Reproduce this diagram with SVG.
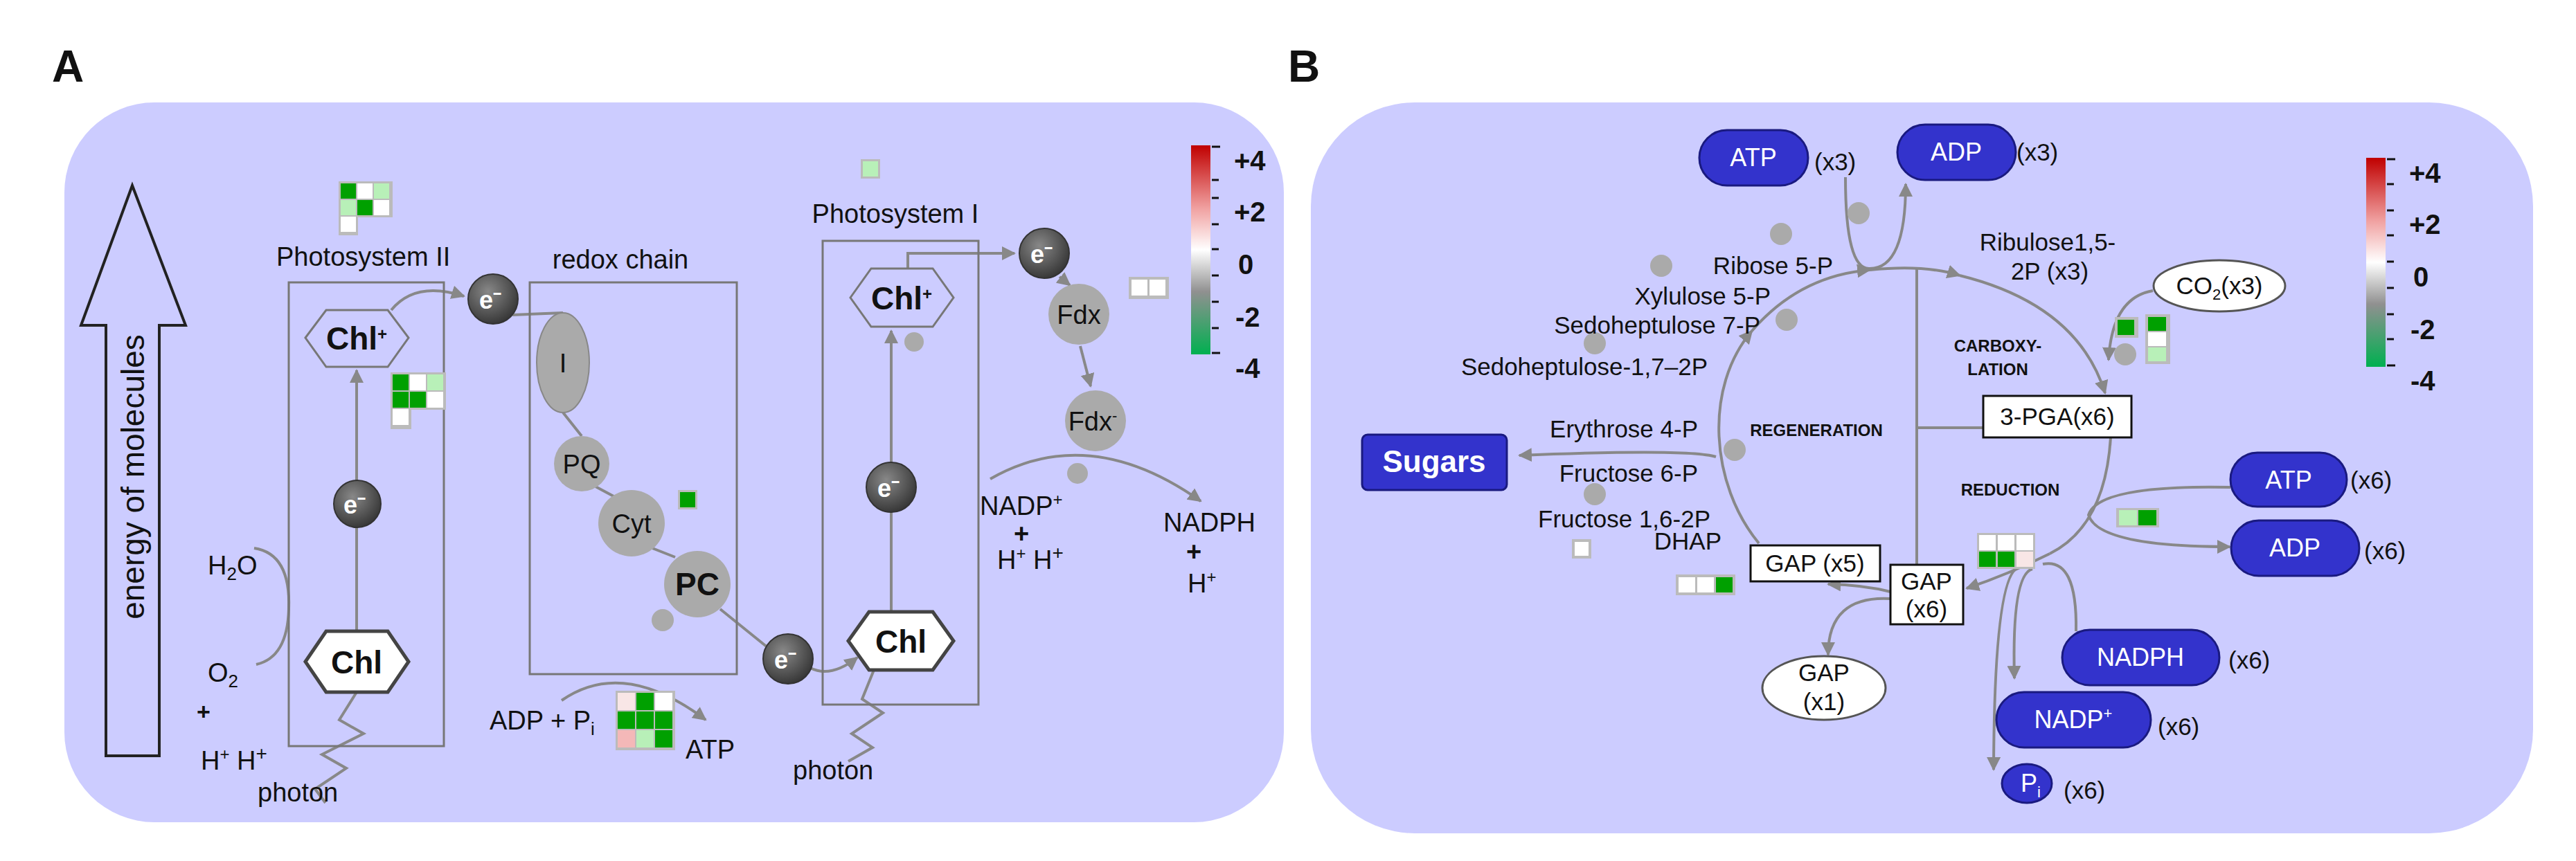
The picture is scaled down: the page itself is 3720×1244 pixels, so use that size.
<svg xmlns="http://www.w3.org/2000/svg" width="3720" height="1244" viewBox="0 0 3720 1244">
<defs>
<marker id="ah" viewBox="0 0 10 10" refX="9" refY="5" markerWidth="5" markerHeight="5" orient="auto"><path d="M0,0L10,5L0,10z" fill="#888"/></marker>
<linearGradient id="cb" x1="0" y1="0" x2="0" y2="1"><stop offset="0" stop-color="#c00000"/><stop offset="0.3" stop-color="#f0a0a0"/><stop offset="0.5" stop-color="#ffffff"/><stop offset="0.7" stop-color="#909090"/><stop offset="1" stop-color="#00b050"/></linearGradient>
<radialGradient id="eg" cx="0.4" cy="0.35" r="0.7"><stop offset="0" stop-color="#888"/><stop offset="1" stop-color="#333"/></radialGradient>
</defs>
<style>
text{font-family:"Liberation Sans",Arial,sans-serif;fill:#111}
.lbl{font-size:38px}
.sm{font-size:35px}
.box{fill:none;stroke:#777;stroke-width:3}
.ln{fill:none;stroke:#888;stroke-width:4}
.arr{fill:none;stroke:#888;stroke-width:4;marker-end:url(#ah)}
.gn{fill:#aaa}
.ec{fill:url(#eg);stroke:#333;stroke-width:2}
.et{font-size:36px;fill:#fff;font-weight:bold}
.hx{fill:#ccccff;stroke:#777;stroke-width:3}
.hw{fill:#fff;stroke:#444;stroke-width:5}
.chl{font-size:46px;font-weight:bold}
.pill{fill:#3333cc;stroke:#1a1a80;stroke-width:3}
.pt{font-size:36px;fill:#fff}
.hb{fill:#bbb}
.G{fill:#00a000}.L{fill:#b8f0b8}.W{fill:#fff}.P{fill:#f4b8b8}.Q{fill:#f8e6e6}
.bb{fill:#fff;stroke:#111;stroke-width:3}
.tick{stroke:#111;stroke-width:3}
.cl{font-size:40px;font-weight:bold}
</style>
<rect width="3720" height="1244" fill="#fff"/>
<text x="75" y="118" font-size="64" font-weight="bold">A</text>
<text x="1860" y="118" font-size="64" font-weight="bold">B</text>
<rect x="93" y="148" width="1761" height="1040" rx="130" fill="#ccccff"/>
<rect x="1893" y="148" width="1765" height="1056" rx="150" fill="#ccccff"/>

<g id="connectors">
<path class="arr" d="M515,912V535"/>
<path class="arr" d="M565,448Q600,405 670,428"/>
<path class="ln" d="M740,455L813,452M813,596L840,630M860,703L888,718M942,792L975,805M1040,880L1108,935"/>
<path class="arr" d="M1170,965Q1200,980 1238,950"/>
<path class="ln" d="M367,792Q420,800 417,880Q415,950 370,960"/>
<path class="ln" d="M515,1000L490,1040L525,1060L465,1090L500,1110L455,1140L470,1160"/>
<path class="arr" d="M811,1012Q900,950 1019,1040"/>
<path class="arr" d="M1287,884V478"/>
<path class="arr" d="M1311,388V366H1465"/>
<path class="arr" d="M1530,400L1545,412"/>
<path class="arr" d="M1560,500L1575,558"/>
<path class="arr" d="M1430,692Q1573,610 1734,724"/>
<path class="ln" d="M1262,968L1245,1010L1275,1030L1230,1060L1260,1080L1225,1100"/>
<path class="arr" d="M2665,256Q2665,390 2700,388Q2752,388 2752,266"/>
<path class="ln" d="M2768,388V816M2768,618H2864"/>
<path class="arr" d="M2700,390Q2780,382 2830,398"/>
<path class="arr" d="M2830,398Q3000,440 3040,568"/>
<path class="arr" d="M3109,420Q3050,430 3045,520"/>
<path class="ln" d="M3048,632Q3040,760 2960,800"/>
<path class="arr" d="M2960,800Q2900,830 2840,850"/>
<path class="arr" d="M2730,855Q2690,845 2640,844"/>
<path class="arr" d="M2540,785C2470,700 2460,560 2530,478"/>
<path class="arr" d="M2530,478C2580,420 2640,395 2700,390"/>
<path class="arr" d="M2478,660Q2440,648 2194,658"/>
<path class="arr" d="M2730,865Q2640,860 2640,946"/>
<path class="arr" d="M3221,704Q3030,700 3016,744Q3030,790 3220,790"/>
<path class="ln" d="M2998,912Q3000,805 2950,815"/>
<path class="arr" d="M2935,822Q2905,830 2909,980"/>
<path class="arr" d="M2915,820Q2880,830 2879,1112"/>
</g>

<g id="energy-arrow"><path d="M153,1092V470H117L191,268L268,470H230V1092Z" fill="none" stroke="#222" stroke-width="4"/><text x="-689" y="208" text-anchor="middle" transform="rotate(-90)" style="font-size:46px">energy of molecules</text></g>

<g id="ps2"><text x="399" y="384" class="lbl">Photosystem II</text><rect class="box" x="417" y="408" width="224" height="670"/>
<polygon class="hx" points="441,488 471,448 560,448 590,488 560,530 471,530"/><text x="515" y="505" class="chl" text-anchor="middle">Chl<tspan font-size="24" dy="-14">+</tspan></text>
<polygon class="hw" points="441,956 471,912 560,912 590,956 560,1000 471,1000"/><text x="515" y="973" class="chl" text-anchor="middle">Chl</text>
<circle class="ec" cx="516" cy="728" r="34"/><text x="512" y="742" class="et" text-anchor="middle">e⁻</text>
<g><rect class="hb" x="489" y="262" width="78" height="28"/><rect class="hb" x="489" y="288" width="78" height="26"/><rect class="hb" x="489" y="312" width="28" height="28"/>
<rect class="G" x="492" y="265" width="22" height="22"/><rect class="W" x="516" y="265" width="22" height="22"/><rect class="L" x="540" y="265" width="22" height="22"/>
<rect class="L" x="492" y="289" width="22" height="22"/><rect class="G" x="516" y="289" width="22" height="22"/><rect class="W" x="540" y="289" width="22" height="22"/>
<rect class="W" x="492" y="313" width="22" height="22"/></g>
<g><rect class="hb" x="564" y="538" width="80" height="54"/><rect class="hb" x="564" y="590" width="30" height="30"/>
<rect class="G" x="567" y="541" width="23" height="23"/><rect class="W" x="592" y="541" width="23" height="23"/><rect class="L" x="617" y="541" width="23" height="23"/>
<rect class="G" x="567" y="566" width="23" height="23"/><rect class="G" x="592" y="566" width="23" height="23"/><rect class="W" x="617" y="566" width="23" height="23"/>
<rect class="W" x="567" y="591" width="23" height="23"/></g>
<circle class="ec" cx="712" cy="432" r="36"/><text x="708" y="446" class="et" text-anchor="middle">e⁻</text>
<text x="300" y="830" class="lbl">H<tspan font-size="26" dy="8">2</tspan><tspan dy="-8">O</tspan></text>
<text x="300" y="985" class="lbl">O<tspan font-size="26" dy="8">2</tspan></text><text x="284" y="1040" font-size="34" font-weight="bold">+</text>
<text x="290" y="1112" class="lbl">H<tspan font-size="24" dy="-14">+</tspan><tspan dy="14"> H</tspan><tspan font-size="28" dy="-14">+</tspan></text>
<text x="372" y="1158" class="lbl">photon</text></g>

<g id="redox"><text x="896" y="388" class="lbl" text-anchor="middle">redox chain</text><rect class="box" x="765" y="408" width="299" height="566"/>
<ellipse class="gn" cx="813" cy="524" rx="38" ry="72" stroke="#888" stroke-width="2"/><text x="813" y="538" class="lbl" text-anchor="middle">I</text>
<circle class="gn" cx="840" cy="670" r="40"/><text x="840" y="684" class="lbl" text-anchor="middle">PQ</text>
<circle class="gn" cx="912" cy="756" r="48"/><text x="912" y="770" class="lbl" text-anchor="middle">Cyt</text>
<circle class="gn" cx="1007" cy="844" r="48"/><text x="1007" y="860" class="chl" text-anchor="middle">PC</text>
<circle class="gn" cx="957" cy="896" r="16"/>
<rect class="hb" x="979" y="708" width="28" height="28"/><rect class="G" x="982" y="711" width="22" height="22"/>
<circle class="ec" cx="1138" cy="952" r="36"/><text x="1134" y="966" class="et" text-anchor="middle">e⁻</text>
<text x="707" y="1054" class="lbl">ADP + P<tspan font-size="26" dy="8">i</tspan></text>
<rect class="hb" x="889" y="998" width="86" height="86"/>
<rect class="Q" x="892" y="1001" width="25" height="25"/><rect class="G" x="919" y="1001" width="25" height="25"/><rect class="W" x="946" y="1001" width="25" height="25"/>
<rect class="G" x="892" y="1028" width="25" height="25"/><rect class="G" x="919" y="1028" width="25" height="25"/><rect class="G" x="946" y="1028" width="25" height="25"/>
<rect class="P" x="892" y="1055" width="25" height="25"/><rect class="L" x="919" y="1055" width="25" height="25"/><rect class="G" x="946" y="1055" width="25" height="25"/>
<text x="990" y="1096" class="lbl">ATP</text></g>

<g id="ps1"><text x="1293" y="322" class="lbl" text-anchor="middle">Photosystem I</text><rect class="hb" x="1243" y="230" width="28" height="28"/><rect class="L" x="1246" y="233" width="22" height="22"/>
<rect class="box" x="1188" y="348" width="225" height="670"/>
<polygon class="hx" points="1228,430 1258,388 1347,388 1377,430 1347,472 1258,472"/><text x="1302" y="447" class="chl" text-anchor="middle">Chl<tspan font-size="24" dy="-14">+</tspan></text>
<circle class="gn" cx="1320" cy="494" r="14"/>
<circle class="ec" cx="1287" cy="704" r="36"/><text x="1283" y="718" class="et" text-anchor="middle">e⁻</text>
<polygon class="hw" points="1225,926 1255,884 1347,884 1377,926 1347,968 1255,968"/><text x="1301" y="943" class="chl" text-anchor="middle">Chl</text>
<text x="1145" y="1126" class="lbl">photon</text>
<circle class="ec" cx="1508" cy="366" r="36"/><text x="1504" y="380" class="et" text-anchor="middle">e⁻</text>
<circle class="gn" cx="1558" cy="454" r="44"/><text x="1558" y="468" class="lbl" text-anchor="middle">Fdx</text>
<circle class="gn" cx="1582" cy="608" r="44"/><text x="1578" y="622" class="lbl" text-anchor="middle">Fdx<tspan font-size="22" dy="-14">-</tspan></text>
<rect class="hb" x="1630" y="400" width="58" height="32"/><rect class="W" x="1634" y="404" width="23" height="23"/><rect class="W" x="1660" y="404" width="23" height="23"/>
<circle class="gn" cx="1556" cy="684" r="15"/>
<text x="1415" y="744" class="lbl">NADP<tspan font-size="24" dy="-14">+</tspan></text><text x="1464" y="784" class="lbl" font-weight="bold">+</text>
<text x="1440" y="822" class="lbl">H<tspan font-size="24" dy="-14">+</tspan><tspan dy="14"> H</tspan><tspan font-size="28" dy="-14">+</tspan></text>
<text x="1680" y="768" class="lbl">NADPH</text><text x="1713" y="810" class="lbl" font-weight="bold">+</text>
<text x="1715" y="856" class="lbl">H<tspan font-size="24" dy="-14">+</tspan></text></g>

<g id="colorbar-a"><rect x="1720" y="210" width="28" height="302" fill="url(#cb)"/>
<path class="tick" d="M1750,212h12M1750,260h10M1750,286h10M1750,324h10M1750,360h10M1750,398h10M1750,436h10M1750,474h10M1750,510h12"/>
<text x="1782" y="246" class="cl">+4</text><text x="1782" y="320" class="cl">+2</text><text x="1788" y="396" class="cl">0</text><text x="1784" y="472" class="cl">-2</text><text x="1784" y="546" class="cl">-4</text></g>

<g id="b-top"><rect class="pill" x="2454" y="188" width="157" height="80" rx="40"/><text x="2532" y="240" class="pt" text-anchor="middle">ATP</text><text x="2620" y="246" class="sm">(x3)</text>
<rect class="pill" x="2740" y="180" width="171" height="80" rx="40"/><text x="2825" y="232" class="pt" text-anchor="middle">ADP</text><text x="2912" y="232" class="sm">(x3)</text></g>
<g id="b-dots"><circle class="gn" cx="2684" cy="308" r="16"/><circle class="gn" cx="2572" cy="338" r="16"/><circle class="gn" cx="2399" cy="384" r="16"/><circle class="gn" cx="2580" cy="462" r="16"/><circle class="gn" cx="2303" cy="496" r="16"/><circle class="gn" cx="2505" cy="650" r="16"/><circle class="gn" cx="2303" cy="714" r="16"/><circle class="gn" cx="3069" cy="512" r="16"/></g>
<g id="b-labels">
<text x="2647" y="396" text-anchor="end" class="sm">Ribose 5-P</text>
<text x="2557" y="440" text-anchor="end" class="sm">Xylulose 5-P</text>
<text x="2542" y="482" text-anchor="end" class="sm">Sedoheptulose 7-P</text>
<text x="2466" y="542" text-anchor="end" class="sm">Sedoheptulose-1,7–2P</text>
<text x="2452" y="632" text-anchor="end" class="sm">Erythrose 4-P</text>
<text x="2452" y="696" text-anchor="end" class="sm">Fructose 6-P</text>
<text x="2470" y="762" text-anchor="end" class="sm">Fructose 1,6-2P</text>
<text x="2486" y="794" text-anchor="end" class="sm">DHAP</text>
<text x="2957" y="362" text-anchor="middle" class="sm">Ribulose1,5-</text><text x="2960" y="404" text-anchor="middle" class="sm">2P (x3)</text>
<text x="2885" y="508" text-anchor="middle" font-size="24" font-weight="bold">CARBOXY-</text><text x="2885" y="542" text-anchor="middle" font-size="24" font-weight="bold">LATION</text>
<text x="2623" y="630" text-anchor="middle" font-size="24" font-weight="bold">REGENERATION</text>
<text x="2903" y="716" text-anchor="middle" font-size="24" font-weight="bold">REDUCTION</text></g>
<g id="pga"><rect class="bb" x="2864" y="572" width="214" height="60"/><text x="2971" y="614" class="sm" text-anchor="middle">3-PGA(x6)</text></g>
<g id="co2"><ellipse cx="3205" cy="413" rx="95" ry="37" fill="#fff" stroke="#555" stroke-width="3"/><text x="3205" y="425" class="sm" text-anchor="middle">CO<tspan font-size="22" dy="8">2</tspan><tspan dy="-8">(x3)</tspan></text>
<rect class="hb" x="3054" y="458" width="34" height="30"/><rect class="G" x="3058" y="462" width="24" height="22"/>
<rect class="hb" x="3098" y="454" width="36" height="72"/><rect class="G" x="3102" y="458" width="26" height="20"/><rect class="W" x="3102" y="480" width="26" height="20"/><rect class="L" x="3102" y="502" width="26" height="20"/></g>
<g id="sugars"><rect x="1967" y="628" width="209" height="80" rx="8" fill="#3333cc" stroke="#1a1a80" stroke-width="3"/><text x="2071" y="682" font-size="44" font-weight="bold" text-anchor="middle" style="fill:#fff">Sugars</text></g>
<g id="gaps"><rect class="hb" x="2270" y="779" width="28" height="28"/><rect class="W" x="2274" y="783" width="20" height="20"/>
<rect class="hb" x="2420" y="830" width="86" height="30"/><rect class="W" x="2424" y="834" width="24" height="22"/><rect class="W" x="2451" y="834" width="24" height="22"/><rect class="G" x="2478" y="834" width="24" height="22"/>
<rect class="bb" x="2528" y="788" width="187" height="52"/><text x="2621" y="826" class="sm" text-anchor="middle">GAP (x5)</text>
<rect class="bb" x="2730" y="816" width="105" height="86"/><text x="2782" y="852" class="sm" text-anchor="middle">GAP</text><text x="2782" y="892" class="sm" text-anchor="middle">(x6)</text>
<ellipse cx="2634" cy="994" rx="89" ry="46" fill="#fff" stroke="#555" stroke-width="3"/><text x="2634" y="984" class="sm" text-anchor="middle">GAP</text><text x="2634" y="1026" class="sm" text-anchor="middle">(x1)</text>
<rect class="hb" x="2855" y="770" width="84" height="52"/><rect class="W" x="2858" y="773" width="24" height="22"/><rect class="W" x="2885" y="773" width="24" height="22"/><rect class="W" x="2912" y="773" width="24" height="22"/><rect class="G" x="2858" y="797" width="24" height="22"/><rect class="G" x="2885" y="797" width="24" height="22"/><rect class="Q" x="2912" y="797" width="24" height="22"/></g>
<g id="b-right"><rect class="pill" x="3221" y="654" width="168" height="78" rx="39"/><text x="3305" y="706" class="pt" text-anchor="middle">ATP</text><text x="3394" y="706" class="sm">(x6)</text>
<rect class="pill" x="3222" y="752" width="185" height="80" rx="40"/><text x="3314" y="804" class="pt" text-anchor="middle">ADP</text><text x="3414" y="808" class="sm">(x6)</text>
<rect class="hb" x="3056" y="734" width="62" height="28"/><rect class="L" x="3060" y="737" width="26" height="22"/><rect class="G" x="3088" y="737" width="26" height="22"/>
<rect class="pill" x="2978" y="910" width="227" height="80" rx="40"/><text x="3091" y="962" class="pt" text-anchor="middle">NADPH</text><text x="3218" y="966" class="sm">(x6)</text>
<rect class="pill" x="2883" y="1000" width="223" height="80" rx="40"/><text x="2994" y="1052" class="pt" text-anchor="middle">NADP<tspan font-size="22" dy="-14">+</tspan></text><text x="3116" y="1062" class="sm">(x6)</text>
<ellipse class="pill" cx="2927" cy="1132" rx="36" ry="28"/><text x="2918" y="1144" class="pt">P<tspan font-size="22" dy="8">i</tspan></text><text x="2980" y="1154" class="sm">(x6)</text></g>
<g id="colorbar-b"><rect x="3417" y="228" width="28" height="302" fill="url(#cb)"/>
<path class="tick" d="M3447,230h12M3447,266h10M3447,304h10M3447,340h10M3447,378h10M3447,416h10M3447,454h10M3447,490h10M3447,528h12"/>
<text x="3479" y="264" class="cl">+4</text><text x="3479" y="338" class="cl">+2</text><text x="3485" y="414" class="cl">0</text><text x="3481" y="490" class="cl">-2</text><text x="3481" y="564" class="cl">-4</text></g>
</svg>
